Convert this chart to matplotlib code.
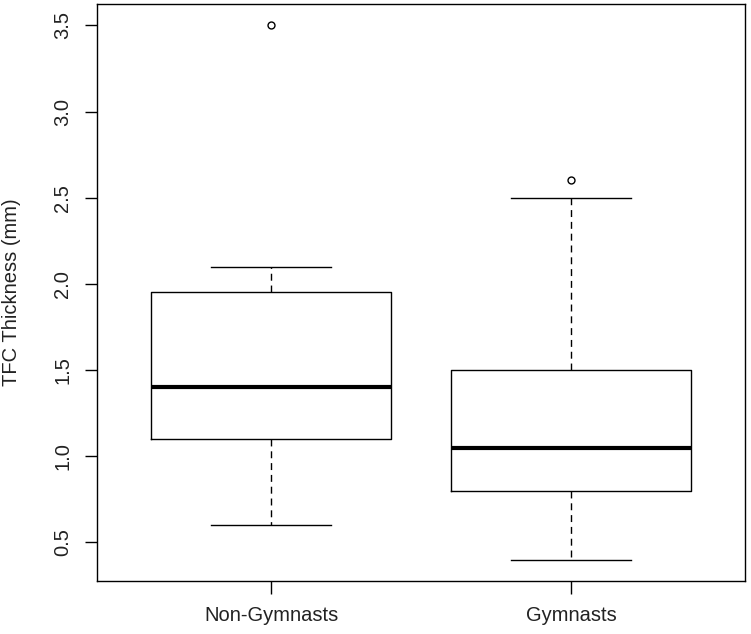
import matplotlib
matplotlib.use("Agg")
import matplotlib.pyplot as plt

plt.rcParams['font.family'] = ['Liberation Sans', 'DejaVu Sans']

# group summaries
groups = ["Non-Gymnasts", "Gymnasts"]
lower_whisker = [0.6, 0.4]
q1 = [1.1, 0.8]
median = [1.4, 1.05]
q3 = [1.95, 1.5]
upper_whisker = [2.1, 2.5]
outliers = [[3.5], [2.6]]
y_ticks = [0.5, 1.0, 1.5, 2.0, 2.5, 3.0, 3.5]

stats = []
for i, g in enumerate(groups):
    stats.append({
        "label": g, "whislo": lower_whisker[i], "q1": q1[i], "med": median[i],
        "q3": q3[i], "whishi": upper_whisker[i], "fliers": outliers[i],
    })

fig = plt.figure(figsize=(7.51, 6.34), dpi=100)
ax = fig.add_axes([97 / 751, 53 / 634, 648 / 751, 577 / 634])

ax.bxp(stats, positions=[1, 2], widths=0.8,
       boxprops=dict(color="black", linewidth=1.0),
       medianprops=dict(color="black", linewidth=3.0, solid_capstyle="butt"),
       whiskerprops=dict(color="black", linewidth=1.0, linestyle=(0, (5, 3.5))),
       capprops=dict(color="black", linewidth=1.0),
       capwidths=0.4,
       flierprops=dict(marker="o", markerfacecolor="none", markeredgecolor="black",
                       markersize=5, markeredgewidth=1.0))

ax.set_xlim(0.42, 2.58)
ax.set_ylim(0.276, 3.624)
ax.set_yticks(y_ticks)
ax.set_yticklabels([f"{v:.1f}" for v in y_ticks], rotation=90, va="center")
ax.set_xticks([1, 2])
ax.set_xticklabels(groups)
ax.tick_params(axis="both", direction="out", length=9, width=1.0, labelsize=14.5,
               color="black", labelcolor="#222222")
ax.tick_params(axis="y", pad=9)
ax.tick_params(axis="x", pad=9)
ax.set_ylabel("TFC Thickness (mm)", fontsize=14.5, color="#222222")
ax.yaxis.set_label_coords(-0.117, 0.5)
for s in ax.spines.values():
    s.set_linewidth(1.0)
    s.set_color("black")

fig.savefig("out.png", dpi=100)
